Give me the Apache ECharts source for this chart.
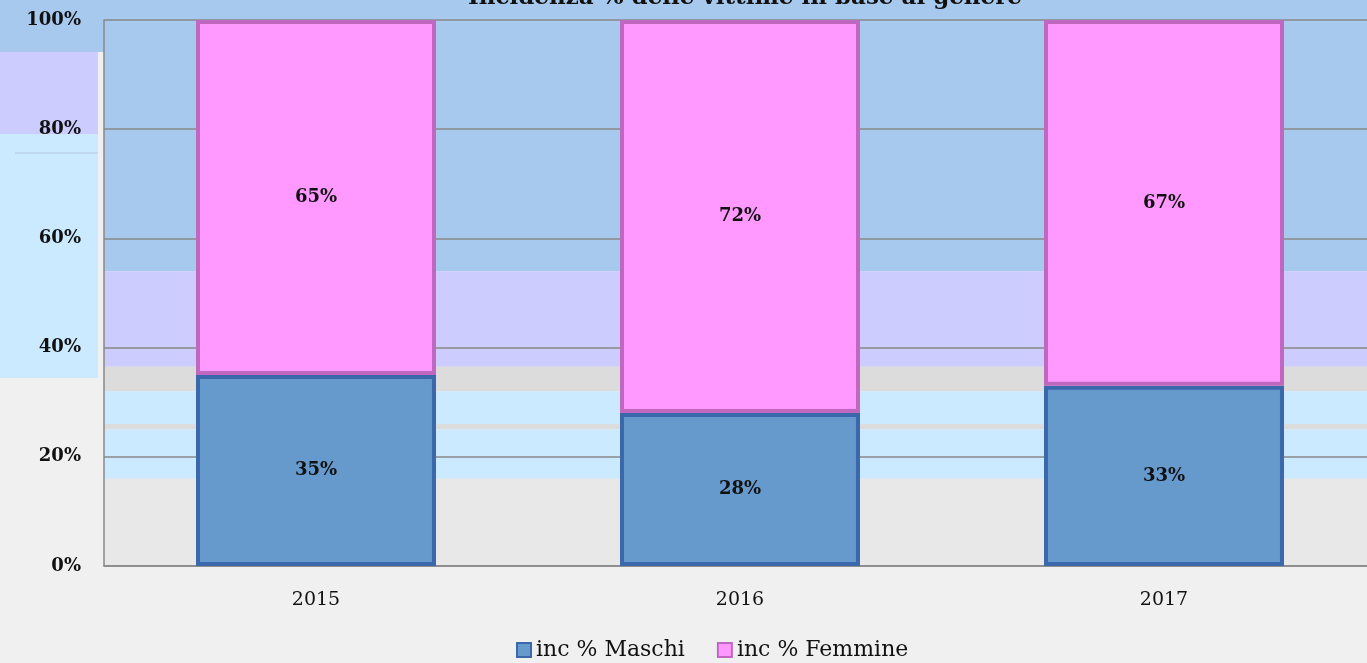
<!DOCTYPE html>
<html>
<head>
<meta charset="utf-8">
<script src="https://cdn.jsdelivr.net/npm/echarts@6/dist/echarts.min.js"></script>
<style>
  html, body { margin: 0; padding: 0; background: #f0f0f0; }
  #chart { width: 1367px; height: 663px; }
</style>
</head>
<body>
<div id="chart"></div>
<script>
const years = ['2015', '2016', '2017']
const maschi = [35, 28, 33]
const femmine = [65, 72, 67]
const yTicks = [0, 20, 40, 60, 80, 100]

const serif = '"DejaVu Serif", "Liberation Serif", serif'
const chart = echarts.init(document.getElementById('chart'))

// background bands of the plot area, in axis units (from, to, colour)
const bands = [
  [54, 100, '#a8c9ee'],
  [36.5, 54, '#ccccff'],
  [32, 36.5, '#dcdcdc'],
  [26, 32, '#cceaff'],
  [25, 26, '#dcdcdc'],
  [16, 25, '#cceaff'],
  [0, 16, '#e8e8e8'],
]

const option = {
  backgroundColor: '#f0f0f0',
  animation: false,
  title: {
    text: 'Incidenza % delle vittime in base al genere',
    left: 740,
    textAlign: 'center',
    top: -18,
    textStyle: { fontFamily: serif, fontWeight: 'bold', fontSize: 23, color: '#111' },
  },
  graphic: [
    // outer background blocks left of the plot
    { type: 'rect', z: -10, shape: { x: 0, y: 0, width: 1367, height: 52 }, style: { fill: '#a8c9ee' } },
    { type: 'rect', z: -10, shape: { x: 0, y: 52, width: 98, height: 82 }, style: { fill: '#ccccff' } },
    { type: 'rect', z: -10, shape: { x: 0, y: 134, width: 98, height: 244 }, style: { fill: '#cceaff' } },
    { type: 'rect', z: -9, shape: { x: 15, y: 152, width: 83, height: 2 }, style: { fill: '#c2d8f0' } },
  ],
  legend: {
    bottom: -3,
    left: 511,
    itemWidth: 14,
    itemHeight: 14,
    itemGap: 32,
    icon: 'rect',
    textStyle: { fontFamily: serif, fontSize: 22, color: '#111' },
    data: ['inc % Maschi', 'inc % Femmine'],
  },
  grid: { left: 104, width: 1272, top: 20, bottom: 97, outerBoundsMode: 'none' },
  xAxis: {
    type: 'category',
    data: years,
    axisTick: { show: false },
    axisLine: { lineStyle: { color: '#888', width: 1.5 } },
    axisLabel: { fontFamily: serif, fontSize: 19, color: '#111', margin: 25 },
  },
  yAxis: {
    type: 'value',
    min: 0,
    max: 100,
    interval: 20,
    axisLine: { show: true, lineStyle: { color: '#888', width: 1.5 } },
    axisTick: { show: false },
    splitLine: { lineStyle: { color: '#888', width: 1.5 } },
    axisLabel: {
      fontFamily: serif, fontSize: 18, fontWeight: 'bold', color: '#111', margin: 23,
      formatter: (v) => (yTicks.includes(v) ? v + '%' : ''),
    },
  },
  series: [
    {
      name: 'inc % Maschi',
      type: 'bar',
      stack: 'tot',
      barWidth: '56.6%',
      data: maschi,
      itemStyle: {
        color: '#6699cc',
        borderColor: '#3a68aa',
        borderWidth: 4,
      },
      label: {
        show: true,
        position: 'inside',
        formatter: '{c}%',
        fontFamily: serif,
        fontWeight: 'bold',
        fontSize: 18,
        color: '#111',
      },
      markArea: {
        silent: true,
        itemStyle: { opacity: 1 },
        data: bands.map(([a, b, c]) => [
          { yAxis: a, itemStyle: { color: c } },
          { yAxis: b },
        ]),
        z: -5,
      },
    },
    {
      name: 'inc % Femmine',
      type: 'bar',
      stack: 'tot',
      data: femmine,
      itemStyle: {
        color: '#ff99ff',
        borderColor: '#c068c0',
        borderWidth: 4,
      },
      label: {
        show: true,
        position: 'inside',
        formatter: '{c}%',
        fontFamily: serif,
        fontWeight: 'bold',
        fontSize: 18,
        color: '#111',
      },
    },
  ],
}

chart.setOption(option)
</script>
</body>
</html>
